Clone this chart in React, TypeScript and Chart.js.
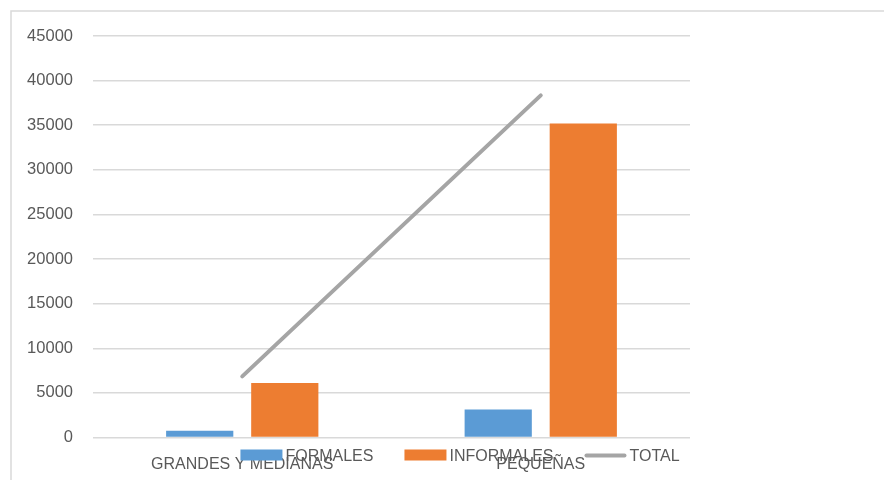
import React, { useEffect, useRef } from "react";
import { Chart, registerables } from "chart.js";

Chart.register(...registerables);

const categories = ["GRANDES Y MEDIANAS", "PEQUEÑAS"];
const formales = [750, 3150];
const informales = [6100, 35200];
const total = [6850, 38350];
const seriesLabels = ["FORMALES", "INFORMALES", "TOTAL"];
const yMax = 45000;
const yStep = 5000;

const FONT = "'Liberation Sans', Arial, sans-serif";
const TEXT = "#595959";

const framePlugin = {
  id: "frame",
  beforeDraw(chart: any) {
    const ctx = chart.ctx;
    ctx.save();
    ctx.strokeStyle = "#d9d9d9";
    ctx.lineWidth = 1.5;
    ctx.beginPath();
    ctx.moveTo(11, chart.height + 2);
    ctx.lineTo(11, 11);
    ctx.lineTo(chart.width + 2, 11);
    ctx.stroke();
    ctx.restore();
  },
};

const legendPlugin = {
  id: "customLegend",
  afterDraw(chart: any) {
    const ctx = chart.ctx;
    ctx.save();
    ctx.font = `16px ${FONT}`;
    ctx.textBaseline = "middle";
    const boxW = 42;
    const gapText = 3;
    const gapItem = 31;
    const items = chart.data.datasets.map((d: any) => ({
      label: d.label,
      color: d.type === "line" ? d.borderColor : d.backgroundColor,
      isLine: d.type === "line",
      w: boxW + gapText + ctx.measureText(d.label).width,
    }));
    const totalW = items.reduce((s: number, it: any) => s + it.w, 0) + gapItem * (items.length - 1);
    let x = 460 - totalW / 2;
    const y = chart.chartArea.bottom + 18;
    for (const it of items) {
      if (it.isLine) {
        ctx.strokeStyle = it.color;
        ctx.lineWidth = 4;
        ctx.lineCap = "round";
        ctx.beginPath();
        ctx.moveTo(x + 2, y);
        ctx.lineTo(x + boxW - 2, y);
        ctx.stroke();
      } else {
        ctx.fillStyle = it.color;
        ctx.fillRect(x, y - 6, boxW, 11);
      }
      ctx.fillStyle = TEXT;
      ctx.fillText(it.label, x + boxW + gapText, y + 1);
      x += it.w + gapItem;
    }
    ctx.restore();
  },
};

export default function App() {
  const ref = useRef<HTMLCanvasElement>(null);
  useEffect(() => {
    if (!ref.current) return;
    const chart = new Chart(ref.current, {
      type: "bar",
      data: {
        labels: categories,
        datasets: [
          {
            type: "bar",
            label: seriesLabels[0],
            data: formales,
            backgroundColor: "#5B9BD5",
            barPercentage: 0.79,
            categoryPercentage: 0.57,
            order: 1,
          },
          {
            type: "bar",
            label: seriesLabels[1],
            data: informales,
            backgroundColor: "#ED7D31",
            barPercentage: 0.79,
            categoryPercentage: 0.57,
            order: 1,
          },
          {
            type: "line",
            label: seriesLabels[2],
            data: total,
            borderColor: "#A5A5A5",
            backgroundColor: "#A5A5A5",
            borderWidth: 4,
            borderCapStyle: "round",
            pointRadius: 0,
            order: 0,
          } as any,
        ],
      },
      options: {
        animation: false,
        responsive: false,
        devicePixelRatio: 1,
        layout: { padding: { left: 10, right: 194, top: 36, bottom: 0 } },
        plugins: {
          legend: { display: false },
          tooltip: { enabled: false },
        },
        scales: {
          x: {
            grid: { display: false, drawTicks: false },
            border: { display: false },
            ticks: { color: TEXT, font: { family: FONT, size: 16 }, padding: 17, maxRotation: 0, autoSkip: false },
            afterFit(scale: any) {
              scale.height = 42.5;
            },
          },
          y: {
            min: 0,
            max: yMax,
            grid: { color: "#d9d9d9", lineWidth: 1.5, drawTicks: false },
            border: { display: false },
            ticks: {
              stepSize: yStep,
              color: TEXT,
              font: { family: FONT, size: 16.5 },
              padding: 20,
              callback: (v: any) => String(v),
            },
            afterFit(scale: any) {
              scale.width = 83;
            },
          },
        },
      },
      plugins: [framePlugin, legendPlugin],
    });
    return () => chart.destroy();
  }, []);
  return (
    <div style={{ position: "absolute", left: 0, top: 0, width: 884, height: 480, background: "#fff" }}>
      <canvas ref={ref} width={884} height={480} style={{ display: "block" }} />
    </div>
  );
}
